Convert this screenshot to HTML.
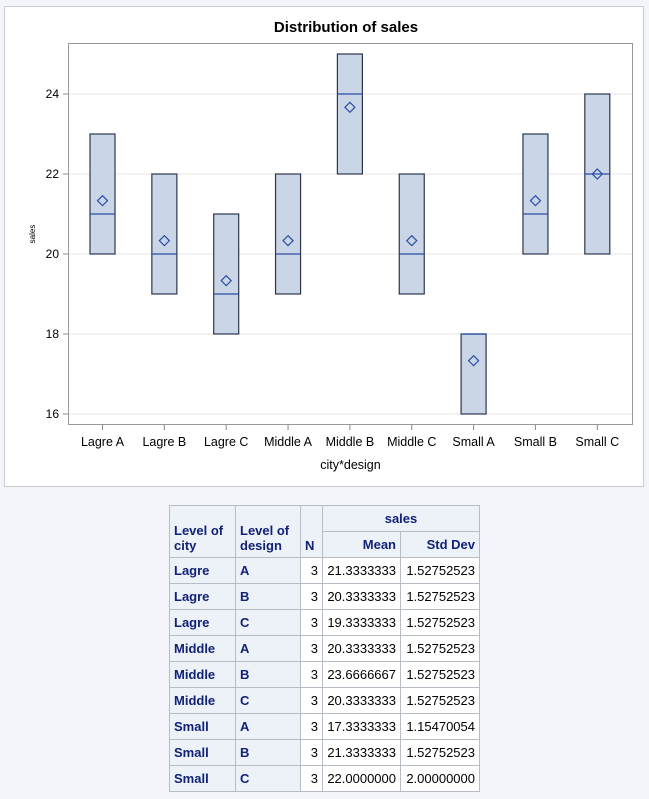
<!DOCTYPE html>
<html><head><meta charset="utf-8">
<style>
body{margin:0;width:649px;height:799px;background:#f3f5fb;font-family:"Liberation Sans",sans-serif;position:relative;overflow:hidden}
#chartbox{position:absolute;left:4px;top:6px;width:638px;height:479px;background:#fff;border:1px solid #c8ccd4}
table{position:absolute;left:169px;top:505px;border-collapse:collapse;font-size:13px}
td,th{border:1px solid #b8bcc4;height:25px;padding:0 4px;box-sizing:border-box}
th{background:#edf1f8;color:#112277;font-weight:bold;text-align:left}
th.r{text-align:right}
td{background:#fff;color:#000;text-align:right}
td.h{background:#edf1f8;color:#112277;font-weight:bold;text-align:left}
</style></head><body>
<div id="chartbox">
<svg id="chart" width="638" height="479"></svg>
</div>
<table>
<tr style="height:26px"><th rowspan="2" style="width:66px;vertical-align:bottom;padding-bottom:4px">Level of<br>city</th><th rowspan="2" style="width:65px;vertical-align:bottom;padding-bottom:4px">Level of<br>design</th><th rowspan="2" style="width:22px;vertical-align:bottom;padding-bottom:4px">N</th><th colspan="2" style="text-align:center">sales</th></tr>
<tr style="height:26px"><th class="r" style="width:78px">Mean</th><th class="r" style="width:79px">Std Dev</th></tr>
<tbody id="tb"></tbody>
</table>
<script>
const categories=["Lagre A","Lagre B","Lagre C","Middle A","Middle B","Middle C","Small A","Small B","Small C"];
const q1=[20,19,18,19,22,19,16,20,20];
const medians=[21,20,19,20,24,20,18,21,22];
const q3=[23,22,21,22,25,22,18,23,24];
const means=[21.3333333,20.3333333,19.3333333,20.3333333,23.6666667,20.3333333,17.3333333,21.3333333,22.0000000];
const stds=[1.52752523,1.52752523,1.52752523,1.52752523,1.52752523,1.52752523,1.15470054,1.52752523,2.00000000];
const yTicks=[16,18,20,22,24];
const ns=[3,3,3,3,3,3,3,3,3];
const OX=4,OY=6;
const X=i=>101.5+61.85*i-OX;
const Y=v=>93+(24-v)*40-OY;
const svg=document.getElementById('chart');const NS="http://www.w3.org/2000/svg";
function mk(t,a,p){const e=document.createElementNS(NS,t);for(const k in a)e.setAttribute(k,a[k]);(p||svg).appendChild(e);return e;}
const L=67-OX,R=632-OX,T=42-OY,B=424-OY;
let t=mk('text',{x:345-OX,y:25,'text-anchor':'middle','font-size':15,'font-weight':'bold',fill:'#000'});t.textContent="Distribution of sales";

yTicks.forEach(v=>{
 const g=mk('line',{x1:L,x2:R,y1:Y(v),y2:Y(v),stroke:'#e6e6e6'});
 
 mk('line',{x1:L-5,x2:L,y1:Y(v),y2:Y(v),stroke:'#888'});
 const tx=mk('text',{x:L-9,y:Y(v)+4,'text-anchor':'end','font-size':12,fill:'#000'});tx.textContent=v;
 
});
const fr=mk('rect',{x:L+0.5,y:T+0.5,width:R-L-1,height:B-T-1,fill:'none',stroke:'#999'});

categories.forEach((c,i)=>{
 const x=X(i);
 mk('line',{x1:x,x2:x,y1:B,y2:B+5,stroke:'#888'});
 const tx=mk('text',{x:x,y:B+21,'text-anchor':'middle','font-size':12.5,fill:'#000'});tx.textContent=c;
 
 const r=mk('rect',{x:x-12.5,y:Y(q3[i]),width:25,height:Y(q1[i])-Y(q3[i]),fill:'#cad5e5',stroke:'#2c3650','stroke-width':1.2});
 
 const m=mk('line',{x1:x-12.5,x2:x+12.5,y1:Y(medians[i]),y2:Y(medians[i]),stroke:'#2a4ea8','stroke-width':1.2});
 
 const my=Y(means[i]);
 const d=mk('polygon',{points:`${x},${my-5} ${x+5},${my} ${x},${my+5} ${x-5},${my}`,fill:'none',stroke:'#2a4ea8','stroke-width':1.2});
 
});
t=mk('text',{x:(L+R)/2,y:B+44,'text-anchor':'middle','font-size':12.5,fill:'#000'});t.textContent="city*design";

t=mk('text',{x:0,y:0,'text-anchor':'middle','font-size':8,fill:'#000',transform:`translate(${34-OX},${Y(20.5)}) rotate(-90)`});t.textContent="sales";

const tb=document.getElementById('tb');
categories.forEach((c,i)=>{
 const [city,des]=c.split(' ');
 const tr=document.createElement('tr');
 
 
 tr.innerHTML=`<td class="h">${city}</td><td class="h">${des}</td><td>${ns[i]}</td><td>${means[i].toFixed(7)}</td><td>${stds[i].toFixed(8)}</td>`;
 tr.style.height='26px';
 tb.appendChild(tr);
});
</script>
</body></html>
